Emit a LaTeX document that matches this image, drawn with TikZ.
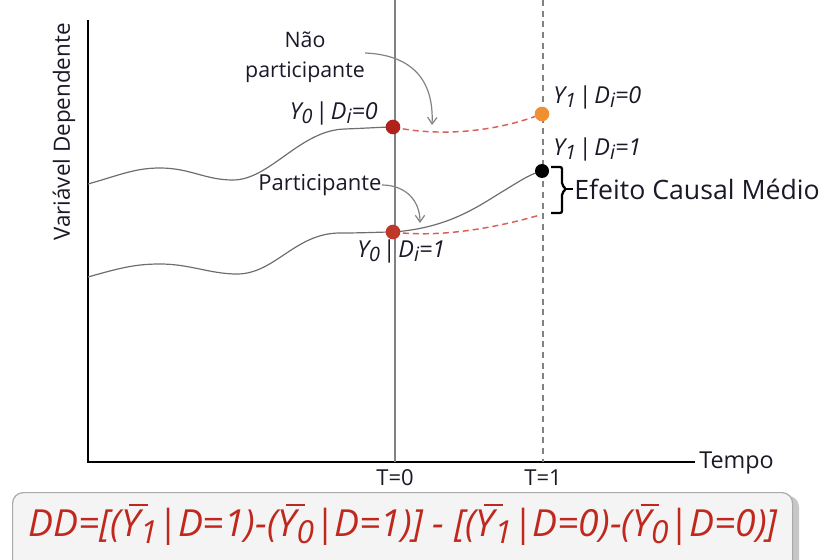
\documentclass[tikz,border=0pt]{standalone}
\usepackage{fontspec}
\usepackage{graphicx}
\setmainfont{Open Sans}
\usetikzlibrary{arrows.meta}
\definecolor{dotred}{RGB}{175,35,28}
\definecolor{dotred2}{RGB}{190,55,40}
\definecolor{dotorange}{RGB}{238,145,50}
\definecolor{dashred}{RGB}{218,95,85}
\definecolor{formred}{RGB}{192,40,30}
\definecolor{linegray}{RGB}{130,130,130}
\definecolor{curvegray}{RGB}{110,110,110}
\definecolor{boxfill}{RGB}{244,244,244}
\definecolor{boxline}{RGB}{170,170,170}
\definecolor{txt}{RGB}{25,25,40}
\newcommand\lsub[1]{\raisebox{-0.35ex}{\scalebox{0.85}{#1}}}
\newcommand\ybar{\makebox[0pt][l]{\hspace{0.22em}\rule[0.82em]{0.5em}{0.06em}}Y}
\newcommand\lab[2]{\textit{Y\lsub{#1}}\hspace{0.12em}|\hspace{0.12em}\textit{D\lsub{i}=#2}}
\tikzset{
  dot/.style={circle,inner sep=0pt,minimum size=11pt},
  curve/.style={draw=curvegray,line width=0.9pt},
  cf/.style={draw=dashred,line width=1.1pt,dash pattern=on 4.5pt off 3pt},
  axis/.style={draw=black,line width=2.2pt},
  callout/.style={draw=linegray,line width=0.9pt,-{Straight Barb[length=5pt,width=7pt]}},
  lbl/.style={text=txt,font=\fontsize{17.5}{19}\selectfont,inner sep=0pt},
  plain/.style={text=txt,font=\fontsize{16.5}{18}\selectfont,inner sep=0pt},
}
\begin{document}
\begin{tikzpicture}[x=0.75pt,y=-0.75pt]
\useasboundingbox (0,0) rectangle (825,560);
% axes
\coordinate (o) at (88,462);
\coordinate (ytop) at (88,20);
\coordinate (xend) at (695,462);
\draw[axis] (ytop) -- (o) -- (xend);
\node[plain,anchor=west,font=\fontsize{17.5}{19}\selectfont] (tempo) at (699,463) {Tempo};
\node[plain,rotate=90,font=\fontsize{16.8}{18}\selectfont] (ylab) at (64,132) {Variável Dependente};
% time lines
\coordinate (t0top) at (395,0);
\coordinate (t0bot) at (395,462);
\coordinate (t1top) at (543,0);
\coordinate (t1bot) at (543,462);
\draw[linegray,line width=1pt] (t0top) -- (t0bot);
\draw[linegray,line width=0.9pt,dash pattern=on 4.5pt off 3.5pt] (t1top) -- (t1bot);
\node[plain] (T0) at (395,478) {T=0};
\node[plain] (T1) at (543,478) {T=1};
% curves
\coordinate (a0) at (393,127);
\coordinate (b0) at (393,232);
\coordinate (c0) at (542,114);
\coordinate (d0) at (542,171);
\coordinate (cfend) at (540,215);
\draw[curve] (88,184) .. controls (120,175) and (135,168) .. (160,168)
  .. controls (190,168) and (205,180) .. (233,180)
  .. controls (270,180) and (300,130) .. (345,129)
  .. controls (370,128) and (385,127) .. (a0);
\draw[curve] (88,277) .. controls (120,268) and (135,264) .. (160,264)
  .. controls (190,264) and (210,274) .. (237,274)
  .. controls (275,274) and (295,233) .. (340,233)
  .. controls (365,233) and (380,232) .. (b0);
\draw[curve] (b0) .. controls (450,228) and (480,205) .. (505,190)
  .. controls (520,181) and (530,174) .. (d0);
\draw[cf] (a0) .. controls (440,137) and (495,132) .. (c0);
\draw[cf] (b0) .. controls (440,238) and (495,228) .. (cfend);
% dots
\node[dot,fill=dotred] (a) at (a0) {};
\node[dot,fill=dotred2] (b) at (b0) {};
\node[dot,fill=dotorange] (c) at (c0) {};
\node[dot,fill=black,minimum size=10.5pt] (d) at (d0) {};
% labels
\node[lbl,anchor=east] (la) at (378,113) {\lab{0}{0}};
\node[lbl,anchor=west] (lb) at (357,251) {\lab{0}{1}};
\node[lbl,anchor=west] (lc) at (553,97) {\lab{1}{0}};
\node[lbl,anchor=west] (ld) at (553,149) {\lab{1}{1}};
% callouts
\node[plain,align=center,font=\fontsize{16}{22.5}\selectfont] (np) at (305,57) {Não\\participante};
\node[plain,font=\fontsize{16.5}{18}\selectfont] (part) at (320,185) {Participante};
\coordinate (npa) at (432,125);
\coordinate (pa) at (420,223);
\draw[callout] (np.east|-0,53) .. controls (412,55) and (434,80) .. (npa);
\draw[callout] (part.east) .. controls (405,185) and (420,200) .. (pa);
% bracket
\coordinate (bt) at (551,167);
\coordinate (bb) at (551,213);
\coordinate (btip) at (573,189);
\draw[line width=1.7pt,rounded corners=1.5pt] (bt) -- (562,167) -- (562,185) -- (566,189) -- (562,193) -- (562,213) -- (bb);
\draw[line width=1.7pt] (566,189) -- (btip);
\node[plain,anchor=west,font=\fontsize{20}{22}\selectfont] (eff) at (574,189) {Efeito Causal Médio};
% formula box
\draw[draw=none,fill=black!22,rounded corners=8pt] (15,496) rectangle (799,575);
\node[draw=boxline,line width=0.9pt,fill=boxfill,rounded corners=8pt,minimum width=585pt,minimum height=60pt,anchor=north west,inner sep=0pt] (box) at (12,492) {};
\node[text=formred,font=\fontsize{28}{30}\selectfont\itshape,inner sep=0pt] (form) at (403,525) {DD=[(\ybar\lsub{1}|D=1)-(\ybar\lsub{0}|D=1)] - [(\ybar\lsub{1}|D=0)-(\ybar\lsub{0}|D=0)]};
\end{tikzpicture}
\end{document}
